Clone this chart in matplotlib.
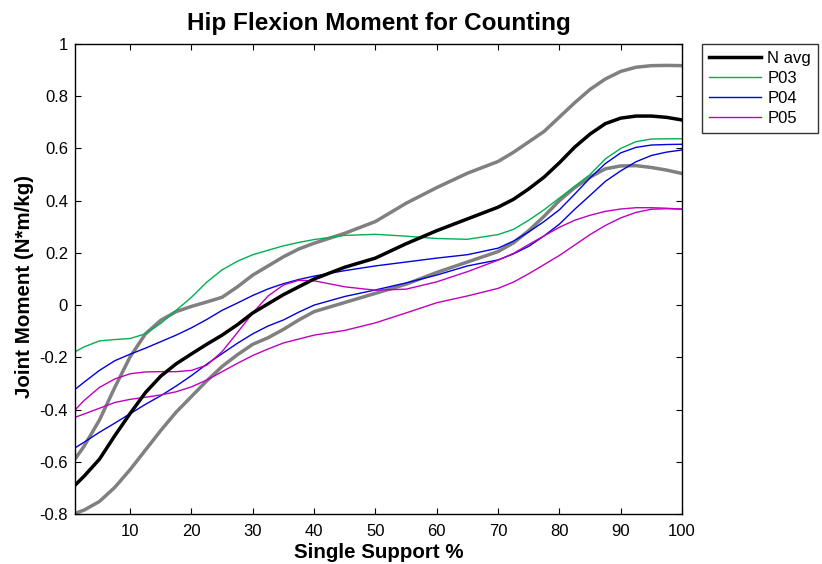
import matplotlib
matplotlib.use('Agg')
import matplotlib.pyplot as plt

plt.rcParams['font.family'] = ['Liberation Sans', 'DejaVu Sans']

x = [1, 2.5, 5, 7.5, 10, 12.5, 15, 17.5, 20, 22.5, 25, 27.5, 30, 32.5, 35, 37.5, 40,
     45, 50, 55, 60, 65, 70, 72.5, 75, 77.5, 80, 82.5, 85, 87.5, 90, 92.5, 95, 97.5, 100]

n_avg = [-0.69, -0.655, -0.59, -0.50, -0.415, -0.335, -0.272, -0.225, -0.187, -0.15,
         -0.115, -0.075, -0.03, 0.005, 0.04, 0.07, 0.10, 0.145, 0.18, 0.235, 0.285,
         0.33, 0.375, 0.405, 0.445, 0.49, 0.545, 0.605, 0.655, 0.695, 0.716, 0.724,
         0.724, 0.719, 0.709]
n_upper = [-0.59, -0.54, -0.44, -0.315, -0.198, -0.11, -0.058, -0.025, -0.005, 0.012,
           0.03, 0.07, 0.115, 0.15, 0.185, 0.215, 0.237, 0.275, 0.32, 0.39, 0.45,
           0.505, 0.55, 0.585, 0.625, 0.665, 0.72, 0.775, 0.826, 0.866, 0.895, 0.911,
           0.917, 0.918, 0.917]
n_lower = [-0.798, -0.785, -0.752, -0.698, -0.63, -0.555, -0.48, -0.41, -0.35, -0.29,
           -0.235, -0.19, -0.15, -0.125, -0.093, -0.057, -0.025, 0.01, 0.045, 0.08,
           0.125, 0.165, 0.205, 0.238, 0.285, 0.34, 0.40, 0.45, 0.49, 0.522, 0.533,
           0.534, 0.527, 0.517, 0.504]
p03 = [-0.179, -0.16, -0.137, -0.132, -0.128, -0.11, -0.07, -0.02, 0.03, 0.088,
       0.135, 0.168, 0.193, 0.21, 0.227, 0.24, 0.251, 0.267, 0.271, 0.264, 0.255,
       0.252, 0.27, 0.29, 0.325, 0.365, 0.41, 0.455, 0.50, 0.56, 0.60, 0.626, 0.636,
       0.637, 0.637]
p04_a = [-0.323, -0.295, -0.25, -0.213, -0.188, -0.165, -0.14, -0.115, -0.087, -0.055,
         -0.02, 0.008, 0.037, 0.062, 0.082, 0.098, 0.111, 0.132, 0.15, 0.165, 0.18,
         0.193, 0.218, 0.245, 0.28, 0.32, 0.365, 0.425, 0.487, 0.542, 0.583, 0.604,
         0.613, 0.615, 0.616]
p04_b = [-0.547, -0.525, -0.487, -0.452, -0.416, -0.38, -0.347, -0.31, -0.27, -0.226,
         -0.186, -0.146, -0.11, -0.08, -0.057, -0.027, 0.0, 0.033, 0.058, 0.085, 0.115,
         0.15, 0.173, 0.196, 0.225, 0.265, 0.31, 0.367, 0.42, 0.474, 0.514, 0.549,
         0.573, 0.586, 0.594]
p05_a = [-0.402, -0.365, -0.315, -0.283, -0.263, -0.256, -0.255, -0.255, -0.25, -0.23,
         -0.178, -0.105, -0.03, 0.035, 0.077, 0.095, 0.093, 0.07, 0.057, 0.061, 0.089,
         0.128, 0.172, 0.198, 0.232, 0.265, 0.298, 0.325, 0.344, 0.359, 0.368, 0.373,
         0.373, 0.371, 0.367]
p05_b = [-0.43, -0.417, -0.395, -0.373, -0.361, -0.353, -0.344, -0.332, -0.313, -0.287,
         -0.255, -0.223, -0.193, -0.168, -0.145, -0.13, -0.115, -0.097, -0.068, -0.03,
         0.009, 0.035, 0.064, 0.088, 0.12, 0.155, 0.19, 0.23, 0.27, 0.305, 0.334,
         0.355, 0.367, 0.369, 0.368]

yticks = [-0.8, -0.6, -0.4, -0.2, 0, 0.2, 0.4, 0.6, 0.8, 1]
ytick_labels = ['-0.8', '-0.6', '-0.4', '-0.2', '0', '0.2', '0.4', '0.6', '0.8', '1']
xticks = [10, 20, 30, 40, 50, 60, 70, 80, 90, 100]

fig = plt.figure(figsize=(8.22, 5.64), dpi=100)
ax = fig.add_axes([0.0912, 0.0887, 0.7385, 0.8333])

gray = '#808080'
thick = 2.5
thin = 1.0
ax.plot(x, n_upper, color=gray, lw=thick, solid_joinstyle='round')
ax.plot(x, n_lower, color=gray, lw=thick, solid_joinstyle='round')
ax.plot(x, p03, color='#00b050', lw=thin, label='P03')
ax.plot(x, p04_a, color='#0000e0', lw=thin, label='P04')
ax.plot(x, p04_b, color='#0000e0', lw=thin)
ax.plot(x, p05_a, color='#c000c0', lw=thin, label='P05')
ax.plot(x, p05_b, color='#c000c0', lw=thin)
ax.plot(x, n_avg, color='black', lw=thick, label='N avg', solid_joinstyle='round')

ax.set_xlim(1, 100)
ax.set_ylim(-0.8, 1)
ax.set_xticks(xticks)
ax.set_yticks(yticks)
ax.set_yticklabels(ytick_labels)
ax.tick_params(direction='in', top=True, right=True, labelsize=12, length=4, width=0.8)
ax.tick_params(axis='x', pad=7)
ax.tick_params(axis='y', pad=5)
for s in ax.spines.values():
    s.set_linewidth(1.0)

ax.set_title('Hip Flexion Moment for Counting', fontsize=17.5, fontweight='bold', pad=10)
ax.set_xlabel('Single Support %', fontsize=14.8, fontweight='bold', labelpad=3)
ax.set_ylabel('Joint Moment (N*m/kg)', fontsize=14.8, fontweight='bold', labelpad=4)
ax.yaxis.label.set_y(0.483)

h, l = ax.get_legend_handles_labels()
order = [3, 0, 1, 2]
leg = fig.legend([h[i] for i in order], [l[i] for i in order],
                 loc='upper left', bbox_to_anchor=(702 / 822, 1 - 44 / 564),
                 borderaxespad=0, fontsize=12, frameon=True, fancybox=False,
                 edgecolor='black', handlelength=3.1, handletextpad=0.4,
                 borderpad=0.42, labelspacing=0.3)
leg.get_frame().set_linewidth(1.0)

fig.savefig('out.png', dpi=100)
